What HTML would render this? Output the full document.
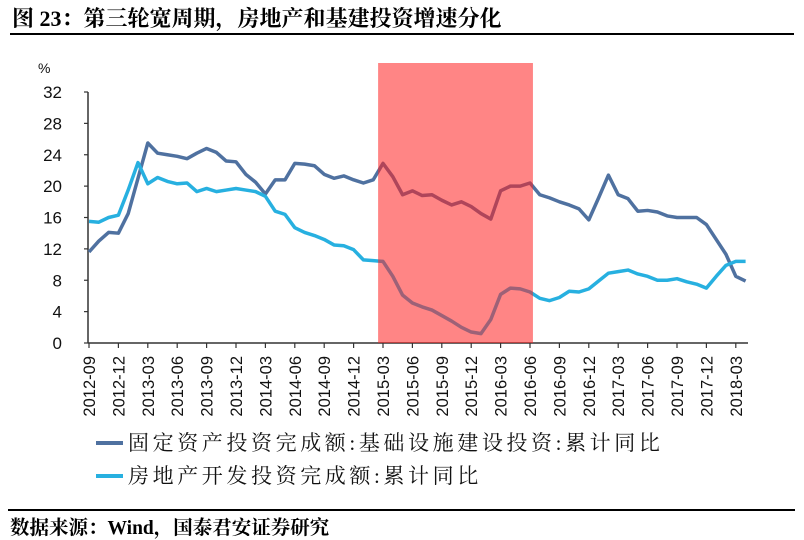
<!DOCTYPE html>
<html><head><meta charset="utf-8">
<style>
body{margin:0;background:#fff;width:804px;height:538px;overflow:hidden;font-family:"Liberation Sans","Noto Sans CJK SC",sans-serif;}
.t{position:absolute;font-family:"Liberation Serif","Noto Serif CJK SC",serif;font-weight:bold;color:#000;white-space:nowrap;}
</style></head><body>
<div class="t" style="left:12px;top:2px;font-size:22px;">图 23：第三轮宽周期，房地产和基建投资增速分化</div>
<div style="position:absolute;left:10px;top:33px;width:784px;height:2px;background:#000"></div>
<svg id="chart" width="804" height="538" style="position:absolute;left:0;top:0"></svg>
<div style="position:absolute;left:8px;top:509px;width:787px;height:2px;background:#000"></div>
<div class="t" style="left:10px;top:512px;font-size:19.5px;">数据来源：Wind，国泰君安证券研究</div>
<script>
const xLabels=["2012-09","2012-12","2013-03","2013-06","2013-09","2013-12","2014-03","2014-06","2014-09","2014-12","2015-03","2015-06","2015-09","2015-12","2016-03","2016-06","2016-09","2016-12","2017-03","2017-06","2017-09","2017-12","2018-03"];
const yTicks=[0,4,8,12,16,20,24,28,32];
const infraValues=[11.6,13.0,14.1,14.0,
16.5,21.0,25.5,24.2,24.0,23.8,23.5,24.2,24.8,24.3,23.2,23.1,
21.5,20.5,19.0,20.8,20.8,22.9,22.8,22.6,21.5,21.0,21.3,20.8,
20.4,20.8,22.9,21.2,18.9,19.4,18.8,18.9,18.2,17.6,18.0,17.4,
16.5,15.8,19.4,20.0,20.0,20.4,18.9,18.5,18.0,17.6,17.1,15.7,
18.5,21.4,18.9,18.4,16.8,16.9,16.7,16.2,16.0,16.0,16.0,15.1,
13.2,11.3,8.5,7.9];
const realEstateValues=[15.5,15.4,16.0,16.3,
19.5,23.0,20.3,21.1,20.6,20.3,20.4,19.3,19.7,19.3,19.5,19.7,
19.5,19.3,18.7,16.8,16.4,14.7,14.1,13.7,13.2,12.5,12.4,11.9,
10.6,10.5,10.4,8.5,6.1,5.1,4.6,4.2,3.5,2.8,2.0,1.4,
1.2,3.0,6.2,7.0,6.9,6.5,5.7,5.4,5.8,6.6,6.5,6.9,
7.9,8.9,9.1,9.3,8.8,8.5,8.0,8.0,8.2,7.8,7.5,7.0,
8.5,9.9,10.4,10.4];
const shadeStartMonth=29.5, shadeEndMonth=45.3;
const NS="http://www.w3.org/2000/svg";
const svg=document.getElementById('chart');
const x0=89, mw=9.8, yBase=343, yTop=92;
const xS=m=>x0+m*mw;
const yS=v=>yBase-(v/32)*(yBase-yTop);
function mk(t,a,p){const e=document.createElementNS(NS,t);for(const k in a)e.setAttribute(k,a[k]);(p||svg).appendChild(e);return e;}
let ax=mk('line',{x1:88,y1:yTop,x2:88,y2:yBase,stroke:'#333','stroke-width':1.5});


let bx=mk('line',{x1:88,y1:yBase,x2:748,y2:yBase,stroke:'#333','stroke-width':1.5});


yTicks.forEach(v=>{
 mk('line',{x1:84,y1:yS(v),x2:88,y2:yS(v),stroke:'#333','stroke-width':1.2});
 const t=mk('text',{x:62,y:yS(v)+6,'text-anchor':'end','font-size':17,fill:'#111'});
 t.textContent=v;
 
 
});
const pc=mk('text',{x:38,y:73,'font-size':14,fill:'#111'});pc.textContent='%';


xLabels.forEach((l,i)=>{
 const x=xS(i*3);
 mk('line',{x1:x,y1:yBase,x2:x,y2:yBase+5,stroke:'#333','stroke-width':1.2});
 const t=mk('text',{transform:`translate(${x+6},356) rotate(-90)`,'text-anchor':'end','font-size':16.5,fill:'#111'});
 t.textContent=l;
 
 
});
function line(vals,color,name){
 const p=mk('polyline',{points:vals.map((v,i)=>xS(i)+','+yS(v)).join(' '),fill:'none',stroke:color,'stroke-width':3.5,'stroke-linejoin':'round'});
 
 
}
line(infraValues,'#4f71a0','infrastructure-line');
line(realEstateValues,'#27b0e0','real-estate-line');
const r=mk('rect',{x:xS(shadeStartMonth),y:63,width:xS(shadeEndMonth)-xS(shadeStartMonth),height:yBase-63,fill:'#ff2020','fill-opacity':0.55});


[['#4f71a0','固定资产投资完成额:基础设施建设投资:累计同比',443,'legend-infrastructure'],['#27b0e0','房地产开发投资完成额:累计同比',476,'legend-real-estate']].forEach(([c,txt,y,n])=>{
 const g=mk('g',{});
 
 
 mk('line',{x1:96,y1:y,x2:123,y2:y,stroke:c,'stroke-width':4},g);
 const t=mk('text',{x:128,y:y+7,'font-size':21,'letter-spacing':3.6,fill:'#111','font-family':'"Liberation Serif","Noto Serif CJK SC",serif'},g);
 t.textContent=txt;
});
</script>
</body></html>
